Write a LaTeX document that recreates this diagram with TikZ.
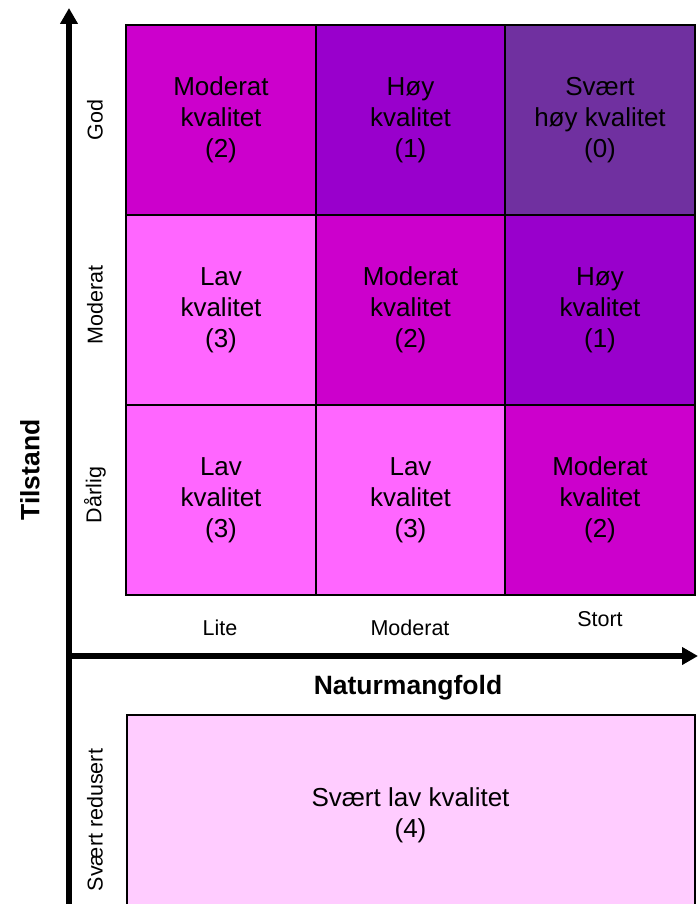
\documentclass[tikz,border=0pt]{standalone}
\usepackage{fontspec}
\setmainfont{Liberation Sans}
\usetikzlibrary{arrows.meta, positioning}

\definecolor{svaerthoy}{HTML}{7030A0}
\definecolor{hoy}{HTML}{9900CC}
\definecolor{moderat}{HTML}{CC00CC}
\definecolor{lav}{HTML}{FF66FF}
\definecolor{svaertlav}{HTML}{FFCCFF}

\begin{document}
\begin{tikzpicture}[
    x=1pt, y=-1pt,
    >={Triangle[width=17pt, length=16pt]},
    every node/.style={align=center, inner sep=0pt},
    cell/.style={draw, line width=2pt, minimum width=189.5pt, minimum height=190pt,
        font=\fontsize{26}{31}\selectfont},
    axlabel/.style={font=\fontsize{21.5}{25}\selectfont},
    axtitle/.style={font=\fontsize{26.5}{30}\selectfont\bfseries},
    axis/.style={->, line width=6pt}
]
\useasboundingbox (0,0) rectangle (698,904);

% Cells
\node[cell, fill=moderat] (god-lite) at (221,120) {Moderat\\kvalitet\\(2)};
\node[cell, fill=hoy] (god-mod) at (410.5,120) {Høy\\kvalitet\\(1)};
\node[cell, fill=svaerthoy] (god-stort) at (600,120) {Svært\\høy kvalitet\\(0)};

\node[cell, fill=lav] (mod-lite) at (221,310) {Lav\\kvalitet\\(3)};
\node[cell, fill=moderat] (mod-mod) at (410.5,310) {Moderat\\kvalitet\\(2)};
\node[cell, fill=hoy] (mod-stort) at (600,310) {Høy\\kvalitet\\(1)};

\node[cell, fill=lav] (darl-lite) at (221,500) {Lav\\kvalitet\\(3)};
\node[cell, fill=lav] (darl-mod) at (410.5,500) {Lav\\kvalitet\\(3)};
\node[cell, fill=moderat] (darl-stort) at (600,500) {Moderat\\kvalitet\\(2)};

\node[cell, fill=svaertlav, minimum width=568pt, minimum height=200pt] (redusert) at (410.5,815) {Svært lav kvalitet\\(4)};

% Labels
\node[axlabel, rotate=90] (lgod) at (95,120) {God};
\node[axlabel, rotate=90] (lmod) at (95,305) {Moderat};
\node[axlabel, rotate=90] (ldarl) at (95,495) {Dårlig};
\node[axlabel, rotate=90] (lred) at (95,820) {Svært redusert};

\node[axlabel] (llite) at (220,628) {Lite};
\node[axlabel] (lmodx) at (410,628) {Moderat};
\node[axlabel] (lstort) at (600,619) {Stort};

\node[axtitle] (naturmangfold) at (408,688) {Naturmangfold};
\node[axtitle, rotate=90] (tilstand) at (30,470) {Tilstand};

% Axes
\coordinate (ybot) at (69,904);
\coordinate (ytop) at (69,8);
\coordinate (xorg) at (66,656);
\coordinate (xend) at (698,656);

\draw[axis] (ybot) -- (ytop);
\draw[axis] (xorg) -- (xend);

\end{tikzpicture}
\end{document}
